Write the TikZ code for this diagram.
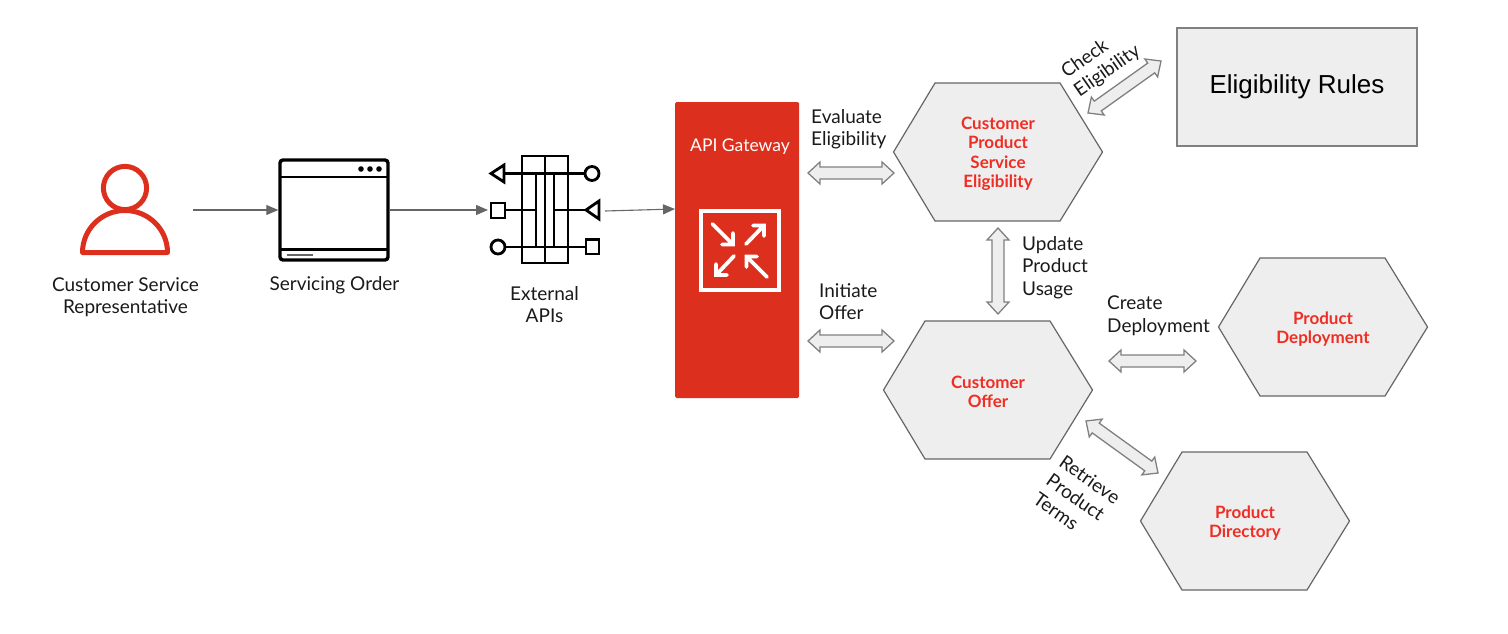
\documentclass[tikz,border=0pt]{standalone}
\usepackage{fontspec}
\setmainfont{Lato}
\newfontfamily\arialfont{Liberation Sans}
\usetikzlibrary{arrows.meta,calc}
\definecolor{rhred}{HTML}{DC2F1E}
\definecolor{hexred}{HTML}{EE2E24}
\definecolor{panel}{HTML}{EEEEEE}
\definecolor{edge}{HTML}{666666}
\definecolor{edgelight}{HTML}{808080}
\definecolor{ink}{HTML}{1A1A1A}
\tikzset{
  thinlink/.style={draw=edge,line width=1.1pt,-{Triangle[length=12pt,width=10pt]}},
  fatlink/.style={draw=edgelight,fill=panel,line width=1.3pt,line join=miter,to path={
    -- ($(\tikztostart)!12pt!(\tikztotarget)!11pt!90:(\tikztotarget)$)
    -- ($(\tikztostart)!12pt!(\tikztotarget)!6pt!90:(\tikztotarget)$)
    -- ($(\tikztotarget)!12pt!(\tikztostart)!6pt!-90:(\tikztostart)$)
    -- ($(\tikztotarget)!12pt!(\tikztostart)!11pt!-90:(\tikztostart)$)
    -- (\tikztotarget)
    -- ($(\tikztotarget)!12pt!(\tikztostart)!11pt!90:(\tikztostart)$)
    -- ($(\tikztotarget)!12pt!(\tikztostart)!6pt!90:(\tikztostart)$)
    -- ($(\tikztostart)!12pt!(\tikztotarget)!6pt!-90:(\tikztotarget)$)
    -- ($(\tikztostart)!12pt!(\tikztotarget)!11pt!-90:(\tikztotarget)$)
    -- cycle}},
  lbl/.style={inner sep=0pt,align=center,text=ink,font=\fontsize{19}{22.5}\selectfont},
  lblL/.style={lbl,align=left},
  hexlbl/.style={inner sep=0pt,align=center,text=hexred,font=\fontsize{17}{19.5}\selectfont\bfseries},
  hexshape/.style={draw=edge,fill=panel,line width=1.2pt,line join=miter},
  iconline/.style={draw=black,line width=2.8pt,line join=miter},
  gwarrow/.style={draw=white,line width=3.8pt,line cap=round,line join=miter},
}
\newcommand{\hexa}[4]{% name, cx, cy, text
  \draw[hexshape] (#2-104.5,#3) -- (#2-63,#3-69) -- (#2+62,#3-69) -- (#2+104.5,#3) -- (#2+62,#3+69) -- (#2-63,#3+69) -- cycle;
  \node[hexlbl] (#1) at (#2,#3+2) {#4};
}
\begin{document}
\begin{tikzpicture}[x=1pt,y=-1pt]
\useasboundingbox (0,0) rectangle (1508,634);
% person
\draw[draw=rhred,line width=5pt] (125,188) circle (21.6);
\draw[draw=rhred,line width=5pt,line join=round] (82.5,252.5) arc[start angle=180,end angle=360,x radius=42.5,y radius=42] -- cycle;
\coordinate (personout) at (193,210);
\node[lbl] (personlbl) at (125.5,297) {Customer Service\\Representative};
% servicing order
\node[draw=black,line width=3.4pt,rounded corners=3pt,minimum width=108pt,minimum height=100pt,inner sep=0pt] (order) at (334,210) {};
\draw[black,line width=2.8pt] (281,177) -- (387,177) (281,249.5) -- (387,249.5);
\draw[edge,line width=2.4pt] (287,255) -- (313,255);
\foreach \dx in {361,370,379} \fill[black] (\dx,169) circle (2.8);
\node[lbl] (orderlbl) at (334.5,285.5) {Servicing Order};
% external APIs
\draw[iconline] (522,156) rectangle (568,263);
\draw[iconline] (545,156) -- (545,263) (536,173) -- (536,247) (554,173) -- (554,247);
\draw[iconline] (504,173.5) -- (585,173.5) (505,210) -- (536,210) (554,210) -- (586,210) (505,247) -- (586,247);
\draw[iconline] (491,173.5) -- (504,165) -- (504,182) -- cycle;
\draw[iconline] (592,173.5) circle (7);
\draw[iconline] (491,203) rectangle (505,218);
\draw[iconline] (586,210) -- (599,201) -- (599,219) -- cycle;
\draw[iconline] (498,247) circle (7);
\draw[iconline] (586,239.5) rectangle (599,254);
\coordinate (extin) at (488,210);
\coordinate (extout) at (605,211);
\node[lbl] (extlbl) at (544.5,304.5) {External\\APIs};
% gateway
\node[fill=rhred,rounded corners=1.5pt,minimum width=124pt,minimum height=296pt,inner sep=0pt] (gateway) at (737,250) {};
\node[inner sep=0pt,text=white,font=\fontsize{17.5}{19}\selectfont] (gwlbl) at (740,147) {API Gateway};
\draw[draw=white,line width=4pt] (700.5,210.5) rectangle (778.5,289.5);
\draw[gwarrow] (712.5,224) -- (733,244.5) (733,233) -- (733,244.5) -- (722,244.5);
\draw[gwarrow] (746,244) -- (764,225.5) (753,225.5) -- (764,225.5) -- (764,236);
\draw[gwarrow] (734,256) -- (716,275) (716,264) -- (716,275) -- (727,275);
\draw[gwarrow] (767,277) -- (746.5,256.5) (746.5,267) -- (746.5,256.5) -- (757,256.5);
\coordinate (gwin) at (675,209);
% hexagons
\hexa{cpse}{998}{152}{Customer\\Product\\Service\\Eligibility}
\hexa{offer}{988}{390}{Customer\\Offer}
\hexa{deploy}{1323}{327}{Product\\Deployment}
\hexa{directory}{1245}{521}{Product\\Directory}
% rules
\node[draw=edgelight,fill=panel,line width=1.3pt,minimum width=240pt,minimum height=118pt,inner sep=0pt,font=\arialfont\fontsize{26}{30}\selectfont,text=black] (rules) at (1297,87) {Eligibility Rules};
% thin links
\draw[thinlink] (personout) -- (order.west);
\draw[thinlink] (order.east) -- (extin);
\draw[thinlink] (extout) -- (gwin);
% fat links
\coordinate (a1) at (808,173); \coordinate (b1) at (894,173);
\coordinate (a2) at (808,341); \coordinate (b2) at (894,341);
\coordinate (a3) at (998,228); \coordinate (b3) at (998,314);
\coordinate (a4) at (1109,361); \coordinate (b4) at (1196,361);
\coordinate (a5) at (1088,113); \coordinate (b5) at (1161,61);
\coordinate (a6) at (1086,421); \coordinate (b6) at (1158,473);
\draw[fatlink] (a1) to (b1);
\draw[fatlink] (a2) to (b2);
\draw[fatlink] (a3) to (b3);
\draw[fatlink] (a4) to (b4);
\draw[fatlink] (a5) to (b5);
\draw[fatlink] (a6) to (b6);
% labels
\node[lblL,anchor=north west] (l1) at (811,109) {Evaluate\\Eligibility};
\node[lblL,anchor=north west] (l2) at (819,283) {Initiate\\Offer};
\node[lblL,anchor=north west] (l3) at (1022,236) {Update\\Product\\Usage};
\node[lblL,anchor=north west] (l4) at (1107,296) {Create\\Deployment};
\node[lblL,rotate=35] (l5) at (1101,62) {Check\\Eligibility};
\node[lblL,rotate=-35] (l6) at (1077,498) {Retrieve\\Product\\Terms};
\end{tikzpicture}
\end{document}
